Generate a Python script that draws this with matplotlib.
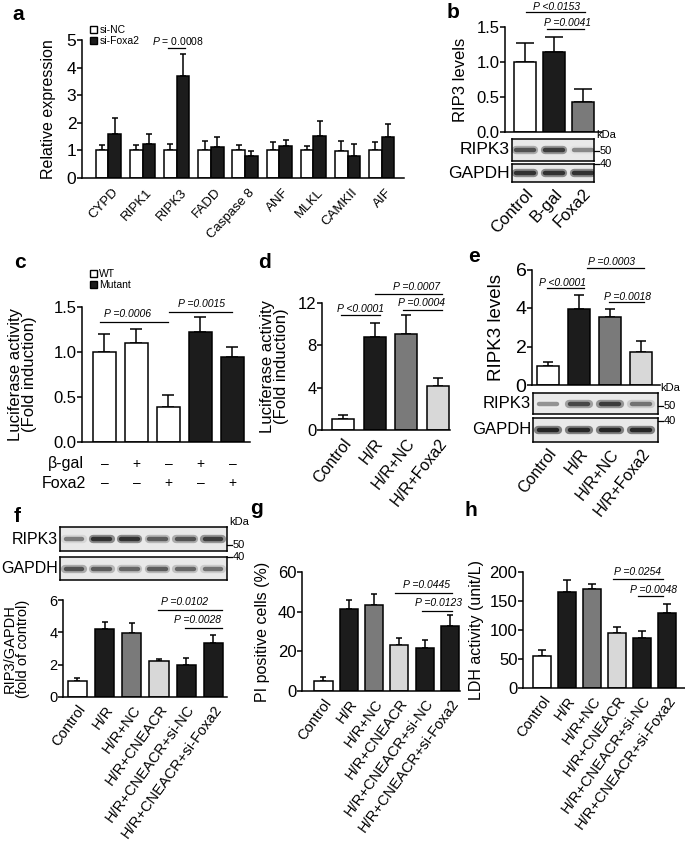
import numpy as np
import matplotlib.pyplot as plt
from matplotlib.patches import Patch
from matplotlib.lines import Line2D

plt.rcParams['font.family'] = ['Liberation Sans', 'DejaVu Sans']
plt.rcParams['mathtext.fontset'] = 'custom'
plt.rcParams['mathtext.it'] = 'Liberation Sans:italic'
plt.rcParams['mathtext.rm'] = 'Liberation Sans'

# ---- data ----
genes = ['CYPD', 'RIPK1', 'RIPK3', 'FADD', 'Caspase 8', 'ANF', 'MLKL', 'CAMKII', 'AIF']
a_nc = [1.0, 1.0, 1.0, 1.0, 1.0, 1.0, 1.0, 0.98, 1.0]
a_nc_err = [0.2, 0.2, 0.25, 0.33, 0.2, 0.32, 0.17, 0.35, 0.3]
a_si = [1.58, 1.25, 3.68, 1.12, 0.8, 1.16, 1.53, 0.8, 1.5]
a_si_err = [0.6, 0.33, 0.8, 0.35, 0.18, 0.2, 0.55, 0.42, 0.47]

b_groups = ['Control', 'B-gal', 'Foxa2']
b_vals = [1.0, 1.15, 0.43]
b_err = [0.27, 0.21, 0.18]
b_ripk3 = [0.8, 0.9, 0.55]
b_gapdh = [0.95, 0.95, 0.95]

c_vals = [1.0, 1.1, 0.39, 1.22, 0.94]
c_err = [0.2, 0.16, 0.13, 0.17, 0.11]
c_bgal = ['–', '+', '–', '+', '–']
c_foxa2 = ['–', '–', '+', '–', '+']

d_groups = ['Control', 'H/R', 'H/R+NC', 'H/R+Foxa2']
d_vals = [1.0, 8.8, 9.1, 4.2]
d_err = [0.4, 1.35, 1.75, 0.75]

e_vals = [1.0, 3.95, 3.53, 1.72]
e_err = [0.22, 0.72, 0.42, 0.55]
e_ripk3 = [0.5, 0.85, 0.9, 0.65]
e_gapdh = [1.0, 1.0, 1.0, 1.0]

fgh_groups = ['Control', 'H/R', 'H/R+NC', 'H/R+CNEACR', 'H/R+CNEACR+si-NC', 'H/R+CNEACR+si-Foxa2']
f_vals = [1.0, 4.2, 3.95, 2.2, 2.0, 3.35]
f_err = [0.2, 0.45, 0.6, 0.17, 0.4, 0.47]
f_ripk3 = [0.6, 0.95, 0.95, 0.75, 0.8, 0.9]
f_gapdh = [0.8, 0.75, 0.7, 0.75, 0.7, 0.65]
g_vals = [5, 41.5, 43.5, 23, 21.5, 33]
g_err = [2, 4.5, 5.5, 3.5, 4, 5.5]
h_vals = [55, 165, 170, 95, 87, 130]
h_err = [10, 22, 10, 10, 12, 15]

# ---- layout helpers (pixel coordinates) ----
W, H = 685, 851
fig = plt.figure(figsize=(W / 100, H / 100), dpi=100)

WHITE, BLACK, MID, LIGHT = 'white', '#1c1c1c', '#7a7a7a', '#d8d8d8'


def fx(x):
    return x / W


def fy(y):
    return 1 - y / H


def px_axes(l, t, r, b):
    return fig.add_axes([l / W, 1 - b / H, (r - l) / W, (b - t) / H])


def style_axes(ax, tickfs):
    ax.spines['top'].set_visible(False)
    ax.spines['right'].set_visible(False)
    ax.spines['left'].set_linewidth(1.1)
    ax.spines['bottom'].set_linewidth(1.1)
    ax.tick_params(axis='y', direction='out', length=3.5, width=1.1, labelsize=tickfs, pad=0.5)
    ax.tick_params(axis='x', length=0)
    ax.set_facecolor('none')


def bars(ax, x, vals, errs, colors, width, capsize):
    ax.bar(x, vals, width, color=colors, edgecolor='black', linewidth=1.1, zorder=2)
    ax.errorbar(x, vals, yerr=[np.zeros(len(vals)), errs], fmt='none', ecolor='black',
                elinewidth=1.1, capsize=capsize, capthick=1.1, zorder=1)


def xlabels(ax, labels, fs, rot, pad):
    ax.set_xticks(np.arange(len(labels)))
    ax.set_xticklabels(labels, rotation=rot, ha='right', rotation_mode='anchor', fontsize=fs)
    ax.tick_params(axis='x', length=0, pad=pad)


def sig(ax, x0, x1, yl, xt, yt, label, fs=7.5):
    ax.plot([x0, x1], [yl, yl], color='black', lw=0.9, clip_on=False)
    ax.text(xt, yt, label, ha='center', va='center', fontsize=fs, style='italic', clip_on=False)


def letter(x, y, s):
    fig.text(fx(x), fy(y), s, fontsize=15, fontweight='bold', ha='left', va='center')


def blot(box, xlim, intens, label, fs):
    ax = px_axes(*box)
    ax.set_xlim(xlim)
    ax.set_ylim(0, 1)
    ax.set_facecolor('#e9e9e9')
    for i, v in enumerate(intens):
        g = 1 - v * 0.85
        ax.plot([i - 0.32, i + 0.32], [0.5, 0.5], color=str(min(1, g + 0.35)), lw=6,
                solid_capstyle='round')
        ax.plot([i - 0.3, i + 0.3], [0.5, 0.5], color=str(g), lw=3.2, solid_capstyle='round')
    ax.set_xticks([])
    ax.set_yticks([])
    for s in ax.spines.values():
        s.set_linewidth(1.1)
    fig.text(fx(box[0] - 2), fy((box[1] + box[3]) / 2), label, ha='right', va='center', fontsize=fs)
    return ax


def kda(x, y_kda, y50, y40):
    fig.text(fx(x + 2), fy(y_kda), 'kDa', fontsize=8, ha='left', va='center')
    for yy, lab in [(y50, '50'), (y40, '40')]:
        fig.add_artist(Line2D([fx(x), fx(x + 5)], [fy(yy), fy(yy)], color='black', lw=0.9))
        fig.text(fx(x + 5.5), fy(yy), lab, fontsize=8, ha='left', va='center')


def legend2(ax, labels, x, y):
    ax.legend(handles=[Patch(facecolor=WHITE, edgecolor='black'), Patch(facecolor=BLACK, edgecolor='black')],
              labels=labels, loc='upper left', bbox_to_anchor=(fx(x), fy(y)),
              bbox_transform=fig.transFigure, frameon=False, fontsize=7.5, handlelength=0.7,
              handleheight=0.7, handletextpad=0.2, labelspacing=0.12, borderaxespad=0, borderpad=0)


# ---- panel a ----
letter(12, 14, 'a')
ax = px_axes(82, 40, 404, 178)
style_axes(ax, 12.5)
xa = np.arange(len(genes))
bars(ax, xa - 0.185, a_nc, a_nc_err, WHITE, 0.37, 2.5)
bars(ax, xa + 0.185, a_si, a_si_err, BLACK, 0.37, 2.5)
ax.set_xlim(-0.77, 8.65)
ax.set_ylim(0, 5)
ax.set_yticks([0, 1, 2, 3, 4, 5])
ax.set_xticks(xa + 0.1)
ax.set_xticklabels(genes, rotation=47, ha='right', rotation_mode='anchor', fontsize=9.5)
ax.tick_params(axis='x', pad=6)
ax.set_ylabel('Relative expression', fontsize=11.5)
ax.yaxis.set_label_coords(-0.08, 0.5)
ax.plot([1.75, 2.24], [4.71, 4.71], color='black', lw=0.9, clip_on=False)
ax.text(2.05, 4.95, '$P$ = 0.0008', ha='center', va='center', fontsize=7.5, clip_on=False)
legend2(ax, ['si-NC', 'si-Foxa2'], 90, 25)

# ---- panel b ----
letter(447, 12, 'b')
bx = ((512 - 525) / 29, (594 - 525) / 29)
ax = px_axes(505, 27, 602, 132)
style_axes(ax, 12)
bars(ax, np.arange(3), b_vals, b_err, [WHITE, BLACK, MID], 0.76, 6.5)
ax.set_xlim(-0.69, 2.66)
ax.set_ylim(0, 1.5)
ax.set_yticks([0, 0.5, 1.0, 1.5])
ax.set_yticklabels(['0.0', '0.5', '1.0', '1.5'])
ax.set_xticks([])
ax.set_ylabel('RIP3 levels', fontsize=12)
ax.yaxis.set_label_coords(-0.38, 0.5)
sig(ax, 0.03, 2.07, 1.71, 1.1, 1.79, 'P <0.0153')
sig(ax, 0.76, 2.03, 1.47, 1.48, 1.55, 'P =0.0041')
blot((512, 139, 594, 161), bx, b_ripk3, 'RIPK3', 12.5)
axg = blot((512, 164, 594, 182), bx, b_gapdh, 'GAPDH', 12.5)
xlabels(axg, b_groups, 12, 47, 3)
kda(594, 135, 151, 164)

# ---- panel c ----
letter(14, 263, 'c')
ax = px_axes(82, 307, 250, 442)
style_axes(ax, 12)
bars(ax, np.arange(5), c_vals, c_err, [WHITE, WHITE, WHITE, BLACK, BLACK], 0.72, 4.3)
ax.set_xlim(-0.70, 4.55)
ax.set_ylim(0, 1.5)
ax.set_yticks([0, 0.5, 1.0, 1.5])
ax.set_yticklabels(['0.0', '0.5', '1.0', '1.5'])
ax.set_xticks([])
ax.set_ylabel('Luciferase activity\n(Fold induction)', fontsize=12, linespacing=0.9)
ax.yaxis.set_label_coords(-0.27, 0.5)
sig(ax, -0.14, 1.98, 1.33, 0.73, 1.42, 'P =0.0006')
sig(ax, 2.02, 3.98, 1.44, 3.05, 1.53, 'P =0.0015')
legend2(ax, ['WT', 'Mutant'], 90, 269)
fig.text(fx(84), fy(464), 'β-gal', ha='right', va='center', fontsize=11.5)
fig.text(fx(86), fy(483), 'Foxa2', ha='right', va='center', fontsize=11.5)
for i in range(5):
    ax.text(i, -0.163, c_bgal[i], transform=ax.get_xaxis_transform(), ha='center', va='center', fontsize=10)
    ax.text(i, -0.304, c_foxa2[i], transform=ax.get_xaxis_transform(), ha='center', va='center', fontsize=10)

# ---- panel d ----
letter(258, 263, 'd')
ax = px_axes(322, 303, 450, 430)
style_axes(ax, 12)
bars(ax, np.arange(4), d_vals, d_err, [WHITE, BLACK, MID, LIGHT], 0.7, 3.6)
ax.set_xlim(-0.66, 3.38)
ax.set_ylim(0, 12)
ax.set_yticks([0, 4, 8, 12])
xlabels(ax, d_groups, 11.5, 52, 4)
ax.set_ylabel('Luciferase activity\n(Fold induction)', fontsize=12, linespacing=0.9)
ax.yaxis.set_label_coords(-0.26, 0.5)
sig(ax, -0.06, 1.17, 10.87, 0.54, 11.4, 'P <0.0001')
sig(ax, 1.01, 3.12, 12.85, 2.33, 13.5, 'P =0.0007')
sig(ax, 1.89, 3.12, 11.34, 2.49, 12.0, 'P =0.0004')

# ---- panel e ----
letter(468, 257, 'e')
ex = ((533 - 548) / 31, (658 - 548) / 31)
ax = px_axes(532, 269.5, 660, 385)
style_axes(ax, 14)
bars(ax, np.arange(4), e_vals, e_err, [WHITE, BLACK, MID, LIGHT], 0.71, 3.6)
ax.set_xlim(-0.52, 3.61)
ax.set_ylim(0, 6)
ax.set_yticks([0, 2, 4, 6])
ax.set_xticks([])
ax.set_ylabel('RIPK3 levels', fontsize=13.5)
ax.yaxis.set_label_coords(-0.21, 0.5)
sig(ax, -0.03, 1.16, 5.04, 0.48, 5.3, 'P <0.0001')
sig(ax, 1.97, 3.1, 4.31, 2.55, 4.58, 'P =0.0018')
sig(ax, 1.26, 3.1, 6.08, 2.06, 6.38, 'P =0.0003')
blot((533, 393, 658, 414), ex, e_ripk3, 'RIPK3', 12)
axg = blot((533, 418, 658, 442), ex, e_gapdh, 'GAPDH', 12)
xlabels(axg, d_groups, 11.5, 52, 3)
kda(658, 388, 406, 421)

# ---- panel f ----
letter(14, 517, 'f')
fxl = ((60 - 74) / 27.8, (227 - 74) / 27.8)
blot((60, 527, 227, 551), fxl, f_ripk3, 'RIPK3', 11.5)
blot((60, 557, 227, 580), fxl, f_gapdh, 'GAPDH', 11.5)
kda(227, 522, 545, 557)
ax = px_axes(63, 600, 227, 697)
style_axes(ax, 10.5)
bars(ax, np.arange(6), f_vals, f_err, [WHITE, BLACK, MID, LIGHT, BLACK, BLACK], 0.7, 2.5)
ax.set_xlim(-0.53, 5.5)
ax.set_ylim(0, 6)
ax.set_yticks([0, 2, 4, 6])
xlabels(ax, fgh_groups, 10.5, 54, 4)
ax.set_ylabel('RIP3/GAPDH\n(fold of control)', fontsize=10.5, linespacing=0.95)
ax.yaxis.set_label_coords(-0.2, 0.5)
sig(ax, 2.96, 5.31, 5.38, 3.95, 5.87, 'P =0.0102')
sig(ax, 3.95, 5.31, 4.27, 4.43, 4.76, 'P =0.0028')

# ---- panel g ----
letter(250, 508, 'g')
ax = px_axes(302, 572, 460, 691)
style_axes(ax, 12)
bars(ax, np.arange(6), g_vals, g_err, [WHITE, BLACK, MID, LIGHT, BLACK, BLACK], 0.72, 2.5)
ax.set_xlim(-0.85, 5.4)
ax.set_ylim(0, 60)
ax.set_yticks([0, 20, 40, 60])
xlabels(ax, fgh_groups, 10.5, 54, 4)
ax.set_ylabel('PI positive cells (%)', fontsize=11.5)
ax.yaxis.set_label_coords(-0.2, 0.5)
sig(ax, 2.83, 5.08, 49.4, 4.09, 53.5, 'P =0.0445')
sig(ax, 3.89, 5.08, 40.3, 4.53, 44.4, 'P =0.0123')

# ---- panel h ----
letter(465, 510, 'h')
ax = px_axes(523, 572, 685, 688)
style_axes(ax, 12)
bars(ax, np.arange(6), h_vals, h_err, [WHITE, BLACK, MID, LIGHT, BLACK, BLACK], 0.72, 3.2)
ax.set_xlim(-0.76, 5.72)
ax.set_ylim(0, 200)
ax.set_yticks([0, 50, 100, 150, 200])
xlabels(ax, fgh_groups, 10.5, 54, 4)
ax.set_ylabel('LDH activity (unit/L)', fontsize=11.5)
ax.yaxis.set_label_coords(-0.24, 0.5)
sig(ax, 2.84, 4.84, 188, 3.84, 200, 'P =0.0254')
sig(ax, 3.84, 4.84, 158.6, 4.48, 169, 'P =0.0048')

fig.savefig('out.png', dpi=100)
